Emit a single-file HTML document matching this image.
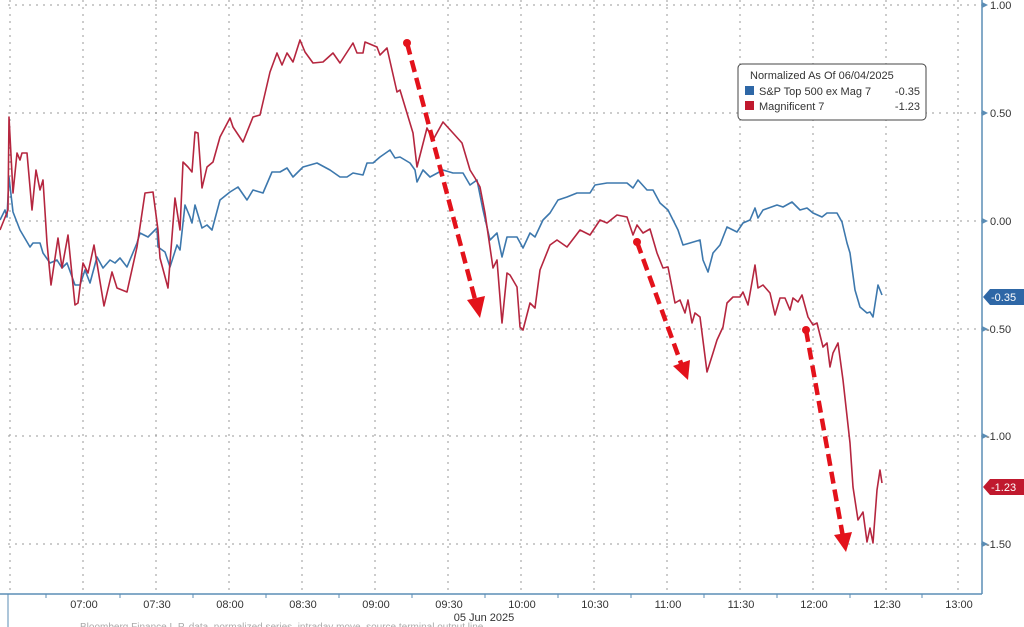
<!DOCTYPE html>
<html><head><meta charset="utf-8"><style>
html,body{margin:0;padding:0;background:#fff;}
svg{display:block;font-family:"Liberation Sans",sans-serif;}
</style></head><body>
<svg width="1024" height="627" viewBox="0 0 1024 627" xmlns="http://www.w3.org/2000/svg">
<rect width="1024" height="627" fill="#fff"/>
<g stroke="#999" stroke-width="1" stroke-dasharray="2,5">
<line x1="8" y1="5" x2="982" y2="5"/>
<line x1="8" y1="113" x2="982" y2="113"/>
<line x1="8" y1="221" x2="982" y2="221"/>
<line x1="8" y1="329" x2="982" y2="329"/>
<line x1="8" y1="436" x2="982" y2="436"/>
<line x1="8" y1="544" x2="982" y2="544"/>
<line x1="10" y1="0" x2="10" y2="594"/>
<line x1="83" y1="0" x2="83" y2="594"/>
<line x1="156" y1="0" x2="156" y2="594"/>
<line x1="229" y1="0" x2="229" y2="594"/>
<line x1="302" y1="0" x2="302" y2="594"/>
<line x1="375" y1="0" x2="375" y2="594"/>
<line x1="448" y1="0" x2="448" y2="594"/>
<line x1="521" y1="0" x2="521" y2="594"/>
<line x1="594" y1="0" x2="594" y2="594"/>
<line x1="667" y1="0" x2="667" y2="594"/>
<line x1="740" y1="0" x2="740" y2="594"/>
<line x1="813" y1="0" x2="813" y2="594"/>
<line x1="886" y1="0" x2="886" y2="594"/>
<line x1="958" y1="0" x2="958" y2="594"/>
</g>
<line x1="982" y1="0" x2="982" y2="594" stroke="#5b8db5" stroke-width="1.5"/>
<line x1="0" y1="594" x2="982" y2="594" stroke="#5b8db5" stroke-width="1.5"/>
<line x1="8" y1="594" x2="8" y2="627" stroke="#5b8db5" stroke-width="1"/>
<g stroke="#5b8db5" stroke-width="1">
<line x1="46" y1="594" x2="46" y2="598"/><line x1="120" y1="594" x2="120" y2="598"/><line x1="193" y1="594" x2="193" y2="598"/><line x1="266" y1="594" x2="266" y2="598"/><line x1="339" y1="594" x2="339" y2="598"/><line x1="412" y1="594" x2="412" y2="598"/><line x1="485" y1="594" x2="485" y2="598"/><line x1="558" y1="594" x2="558" y2="598"/><line x1="631" y1="594" x2="631" y2="598"/><line x1="704" y1="594" x2="704" y2="598"/><line x1="777" y1="594" x2="777" y2="598"/><line x1="850" y1="594" x2="850" y2="598"/><line x1="922" y1="594" x2="922" y2="598"/>
</g>
<g font-size="11" fill="#333" text-anchor="middle">
<text x="84" y="608">07:00</text><text x="157" y="608">07:30</text><text x="230" y="608">08:00</text><text x="303" y="608">08:30</text><text x="376" y="608">09:00</text><text x="449" y="608">09:30</text><text x="522" y="608">10:00</text><text x="595" y="608">10:30</text><text x="668" y="608">11:00</text><text x="741" y="608">11:30</text><text x="814" y="608">12:00</text><text x="887" y="608">12:30</text><text x="959" y="608">13:00</text>
<text x="484" y="621">05 Jun 2025</text>
</g>
<text x="80" y="630" font-size="10" fill="#aaa">Bloomberg Finance L.P. data, normalized series, intraday move, source terminal output line</text>
<g font-size="11" fill="#333">
<text x="990" y="9">1.00</text><text x="990" y="117">0.50</text><text x="990" y="225">0.00</text><text x="986" y="333">-0.50</text><text x="986" y="440">-1.00</text><text x="986" y="548">-1.50</text>
</g>
<g fill="#5b8db5">
<polygon points="982,2 988,5 982,8"/><polygon points="982,110 988,113 982,116"/><polygon points="982,218 988,221 982,224"/><polygon points="982,326 988,329 982,332"/><polygon points="982,433 988,436 982,439"/><polygon points="982,541 988,544 982,547"/>
</g>
<polygon points="983,297 990,289 1024,289 1024,305 990,305" fill="#2e67a6"/>
<text x="991" y="301" font-size="11" fill="#fff">-0.35</text>
<polygon points="983,487 990,479 1024,479 1024,495 990,495" fill="#c0192e"/>
<text x="991" y="491" font-size="11" fill="#fff">-1.23</text>
<polyline fill="none" stroke="#3d78ad" stroke-width="1.6" stroke-linejoin="round" points="0,220 5,210 7,217 9,177 13,212 20,230 30,247 33,243 40,243 43,253 50,263 57,260 62,268 67,263 75,285 80,285 85,270 90,283 97,257 103,268 110,260 115,263 120,258 127,267 137,243 140,233 148,237 157,228 158,247 165,252 170,267 177,245 180,250 185,205 190,217 192,223 195,205 202,228 207,225 212,230 220,200 230,192 238,187 247,200 253,190 263,193 272,172 280,172 287,168 293,177 303,167 317,163 330,170 340,177 347,177 353,173 363,175 367,163 373,163 380,157 390,150 395,158 400,157 410,163 415,170 417,182 423,170 430,177 443,170 453,173 463,173 470,185 477,180 483,210 490,240 497,233 502,257 507,237 517,237 523,248 530,233 535,237 543,220 550,213 558,200 567,197 577,193 590,193 595,185 607,183 620,183 627,183 633,188 638,180 647,190 653,190 660,203 668,210 678,230 683,245 690,243 700,240 703,260 708,272 713,253 720,245 727,227 737,232 743,223 750,220 755,208 758,218 763,210 777,205 783,207 792,202 800,210 807,208 813,213 822,217 827,213 837,213 842,222 847,243 850,253 855,290 860,307 867,313 870,312 873,317 878,285 882,295"/>
<polyline fill="none" stroke="#b5263f" stroke-width="1.6" stroke-linejoin="round" points="0,230 8,210 9,117 13,193 17,153 20,160 22,153 27,153 32,210 36,170 40,190 43,180 47,243 51,285 58,238 62,268 68,235 75,305 78,303 83,263 88,273 94,245 104,306 112,272 117,288 127,292 137,247 145,193 153,192 158,230 160,258 168,288 175,198 180,230 183,162 188,167 192,172 195,132 198,133 202,188 207,167 213,162 220,137 230,118 233,127 243,142 253,117 260,115 270,72 277,53 282,65 287,53 293,62 300,40 305,52 313,63 323,62 333,53 340,63 353,43 357,53 363,53 365,42 377,47 380,55 387,48 397,92 400,90 413,133 417,167 427,128 433,140 443,122 453,133 462,143 470,170 475,178 480,187 485,213 493,268 497,260 502,323 507,273 510,275 517,287 520,327 523,330 530,303 535,308 540,270 550,245 557,240 567,247 580,230 590,235 600,220 607,223 617,215 627,217 633,235 637,225 643,233 650,229 657,253 663,268 668,267 675,303 680,300 685,313 688,300 692,323 695,313 700,317 707,372 713,353 717,340 723,327 727,303 733,297 740,297 743,292 748,305 755,265 758,288 763,285 770,293 775,315 780,298 785,298 790,310 793,298 798,302 802,295 808,317 813,325 817,323 823,347 827,343 830,367 833,353 838,343 843,380 850,443 853,487 858,520 863,512 867,542 870,528 873,543 877,490 880,470 882,483"/>
<g stroke="#e3121b" stroke-width="4.5" stroke-dasharray="12,6" fill="none">
<line x1="407" y1="43" x2="476" y2="303"/>
<line x1="637" y1="242" x2="682" y2="366"/>
<line x1="806" y1="330" x2="843" y2="537"/>
</g>
<g fill="#e3121b">
<circle cx="407" cy="43" r="4"/><circle cx="637" cy="242" r="4"/><circle cx="806" cy="330" r="4"/>
<polygon points="480,318 467,300 485,296"/>
<polygon points="688,380 673,366 690,360"/>
<polygon points="846,552 834,535 852,532"/>
</g>
<rect x="738" y="64" width="188" height="56" rx="4" fill="#fff" stroke="#444" stroke-width="1"/>
<g font-size="11" fill="#333">
<text x="750" y="79">Normalized As Of 06/04/2025</text>
<rect x="745" y="86" width="9" height="9" fill="#2e67a6"/>
<text x="759" y="95">S&amp;P Top 500 ex Mag 7</text><text x="920" y="95" text-anchor="end">-0.35</text>
<rect x="745" y="101" width="9" height="9" fill="#c0192e"/>
<text x="759" y="110">Magnificent 7</text><text x="920" y="110" text-anchor="end">-1.23</text>
</g>
</svg>
</body></html>
